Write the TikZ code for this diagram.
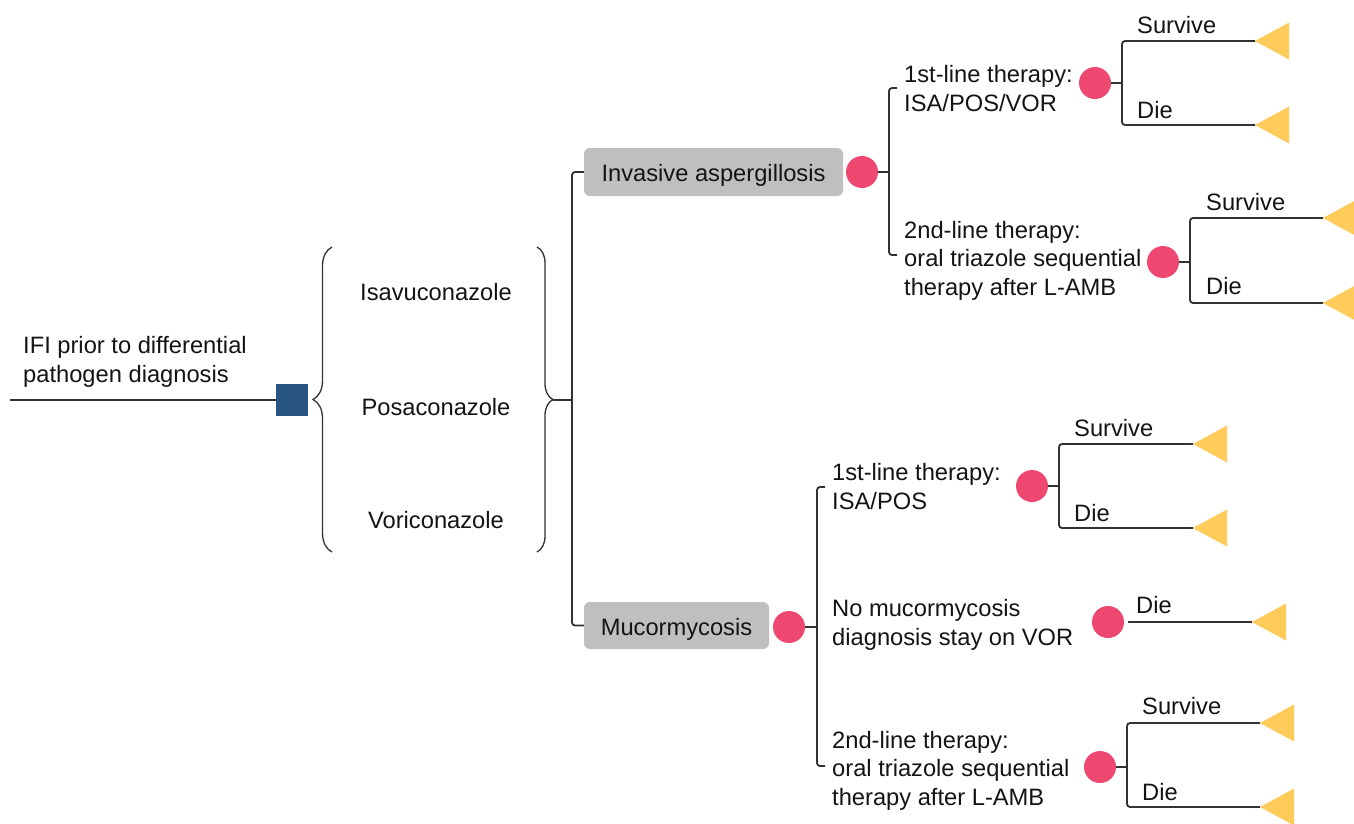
\documentclass[tikz,border=0pt]{standalone}
\usepackage{fontspec}
\setmainfont{Liberation Sans}
\usetikzlibrary{decorations.pathreplacing}
\definecolor{sqblue}{RGB}{40,85,128}
\definecolor{dotred}{RGB}{238,72,112}
\definecolor{trigold}{RGB}{255,204,92}
\definecolor{boxgray}{RGB}{191,191,191}
\definecolor{linegray}{RGB}{50,50,50}
\tikzset{
  conn/.style={draw=linegray, line width=1.8pt},
  brc/.style={draw=linegray, line width=1.3pt, decorate},
  txt/.style={font=\fontsize{23.7}{28.5}\selectfont, inner sep=0pt, text=black!92, align=left},
  dot/.style={circle, fill=dotred, minimum size=32pt, inner sep=0pt},
  catbox/.style={rounded corners=6pt, fill=boxgray, inner sep=0pt, text=black!92,
    font=\fontsize{23.7}{28.5}\selectfont, text height=19pt, text depth=0pt},
  decsq/.style={fill=sqblue, minimum size=32pt, inner sep=0pt},
}
\newcommand\mkleaf[2]{\coordinate (#1) at (#2); \fill[trigold] (#1) -- ++(34,-18.5) -- ++(0,37) -- cycle;}
\begin{document}
\begin{tikzpicture}[x=1pt,y=-1pt]
\fill[white] (0,0) rectangle (1354,823);
\useasboundingbox (0,0) rectangle (1354,823);

% root decision
\coordinate (start) at (10,400);
\node[decsq] (root) at (292,400) {};
\draw[conn] (start) -- (root.west);
\node[txt, anchor=west] (rootlbl) at (23,362) {IFI prior to differential\\pathogen diagnosis};

% drugs
\coordinate (lbtop) at (332,247);
\coordinate (lbbot) at (332,552);
\draw[brc, decoration={brace, amplitude=19pt}] (lbbot) -- (lbtop);
\node[txt, align=center] (isa) at (436,292) {Isavuconazole};
\node[txt, align=center] (pos) at (436,407) {Posaconazole};
\node[txt, align=center] (vor) at (436,520) {Voriconazole};
\coordinate (rbtop) at (537,247);
\coordinate (rbbot) at (537,552);
\draw[brc, decoration={brace, amplitude=16pt}] (rbtop) -- (rbbot);
\coordinate (rbtip) at (553,400);
\coordinate (j0) at (572,400);
\draw[conn] (rbtip) -- (j0);

% categories
\node[catbox, minimum width=259pt, minimum height=48pt] (IA) at (713.5,172) {Invasive aspergillosis};
\node[catbox, minimum width=185pt, minimum height=47pt] (MU) at (676.5,625.5) {Mucormycosis};
\draw[conn, rounded corners=3pt] (IA.west) -| (j0) |- (MU.west);

% invasive aspergillosis branch
\node[dot] (cIA) at (862,172) {};
\coordinate (fIA) at (889,172);
\draw[conn] (cIA.east) -- (fIA);
\coordinate (fIAt) at (897,88);
\coordinate (fIAb) at (897,255);
\draw[conn, rounded corners=3pt] (fIAt) -| (fIA) |- (fIAb);
\node[txt, anchor=west] (IA1) at (904,88.6) {1st-line therapy:\\ISA/POS/VOR};
\node[txt, anchor=west] (IA2) at (904,260.4) {2nd-line therapy:\\oral triazole sequential\\therapy after L-AMB};

\node[dot] (cIA1) at (1095,83) {};
\coordinate (gIA1) at (1122,83);
\draw[conn] (cIA1.east) -- (gIA1);
\mkleaf{tIA1s}{1255,41}
\mkleaf{tIA1d}{1255,125}
\draw[conn, rounded corners=3pt] (tIA1s) -| (gIA1) |- (tIA1d);
\node[txt, anchor=west] (lIA1s) at (1137,25) {Survive};
\node[txt, anchor=west] (lIA1d) at (1137,110) {Die};

\node[dot] (cIA2) at (1163,262) {};
\coordinate (gIA2) at (1190,262);
\draw[conn] (cIA2.east) -- (gIA2);
\mkleaf{tIA2s}{1323,218}
\mkleaf{tIA2d}{1323,303}
\draw[conn, rounded corners=3pt] (tIA2s) -| (gIA2) |- (tIA2d);
\node[txt, anchor=west] (lIA2s) at (1206,202) {Survive};
\node[txt, anchor=west] (lIA2d) at (1206,286) {Die};

% mucormycosis branch
\node[dot] (cMU) at (789,627) {};
\coordinate (fMU) at (817,627);
\draw[conn] (cMU.east) -- (fMU);
\coordinate (fMUt) at (825,487);
\coordinate (fMUb) at (825,766);
\draw[conn, rounded corners=3pt] (fMUt) -| (fMU) |- (fMUb);
\node[txt, anchor=west] (MU1) at (832,486.6) {1st-line therapy:\\ISA/POS};
\node[txt, anchor=west] (MU2) at (832,625.1) {No mucormycosis\\diagnosis stay on VOR};
\node[txt, anchor=west] (MU3) at (832,770.4) {2nd-line therapy:\\oral triazole sequential\\therapy after L-AMB};

\node[dot] (cMU1) at (1032,486) {};
\coordinate (gMU1) at (1059,486);
\draw[conn] (cMU1.east) -- (gMU1);
\mkleaf{tMU1s}{1193,444}
\mkleaf{tMU1d}{1193,528}
\draw[conn, rounded corners=3pt] (tMU1s) -| (gMU1) |- (tMU1d);
\node[txt, anchor=west] (lMU1s) at (1074,428) {Survive};
\node[txt, anchor=west] (lMU1d) at (1074,513) {Die};

\node[dot] (cMU2) at (1108,622) {};
\mkleaf{tMU2d}{1252,622}
\draw[conn, shorten <=4pt] (cMU2.east) -- (tMU2d);
\node[txt, anchor=west] (lMU2d) at (1136,605) {Die};

\node[dot] (cMU3) at (1100,767) {};
\coordinate (gMU3) at (1127,767);
\draw[conn] (cMU3.east) -- (gMU3);
\mkleaf{tMU3s}{1260,723}
\mkleaf{tMU3d}{1260,807}
\draw[conn, rounded corners=3pt] (tMU3s) -| (gMU3) |- (tMU3d);
\node[txt, anchor=west] (lMU3s) at (1142,706) {Survive};
\node[txt, anchor=west] (lMU3d) at (1142,792) {Die};
\end{tikzpicture}
\end{document}
